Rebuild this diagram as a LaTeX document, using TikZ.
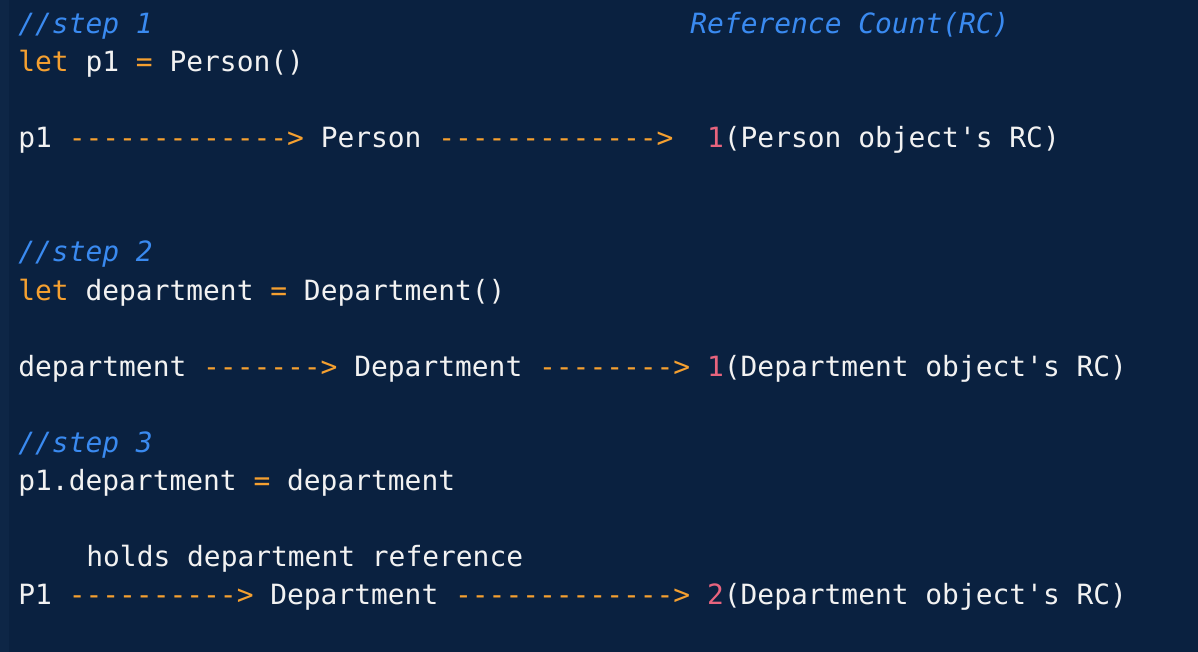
\documentclass[tikz,border=0pt]{standalone}
\usepackage{fontspec}
\setmonofont{DejaVu Sans Mono}
\definecolor{codebg}{HTML}{0A2140}
\definecolor{codestrip}{HTML}{0E2646}
\definecolor{codeblue}{HTML}{3A8AF0}
\definecolor{codeorange}{HTML}{F5A030}
\definecolor{codepink}{HTML}{E8647E}
\definecolor{codewhite}{HTML}{F2F2F2}
\newcommand{\kw}[1]{\textcolor{codeorange}{#1}}
\newcommand{\rcnum}[1]{\textcolor{codepink}{#1}}
\tikzset{
  codeline/.style={anchor=base west, inner sep=0pt, text=codewhite,
    font=\ttfamily\fontsize{13.95}{19}\selectfont},
  comment/.style={codeline, text=codeblue,
    font=\ttfamily\itshape\fontsize{13.95}{19}\selectfont}
}
\begin{document}
\begin{tikzpicture}[x=0.5pt, y=-0.5pt]
  \fill[codebg] (0,0) rectangle (1198,652);
  \fill[codestrip] (0,0) rectangle (9,652);
  % step 1
  \node[comment] (stepone) at (18,34) {//step 1};
  \node[comment] (rchead) at (690,34) {Reference Count(RC)};
  \node[codeline] (letpone) at (18,72) {\kw{let} p1 \kw{=} Person()};
  \node[codeline] (refpone) at (18,148)
    {p1 \kw{------------->} Person \kw{------------->}\ \ \rcnum{1}(Person object's RC)};
  % step 2
  \node[comment] (steptwo) at (18,262) {//step 2};
  \node[codeline] (letdept) at (18,300) {\kw{let} department \kw{=} Department()};
  \node[codeline] (refdept) at (18,376)
    {department \kw{------->} Department \kw{-------->} \rcnum{1}(Department object's RC)};
  % step 3
  \node[comment] (stepthree) at (18,452) {//step 3};
  \node[codeline] (assign) at (18,490) {p1.department \kw{=} department};
  \node[codeline] (holds) at (86,566) {holds department reference};
  \node[codeline] (refhold) at (18,604)
    {P1 \kw{---------->} Department \kw{------------->} \rcnum{2}(Department object's RC)};
\end{tikzpicture}
\end{document}
